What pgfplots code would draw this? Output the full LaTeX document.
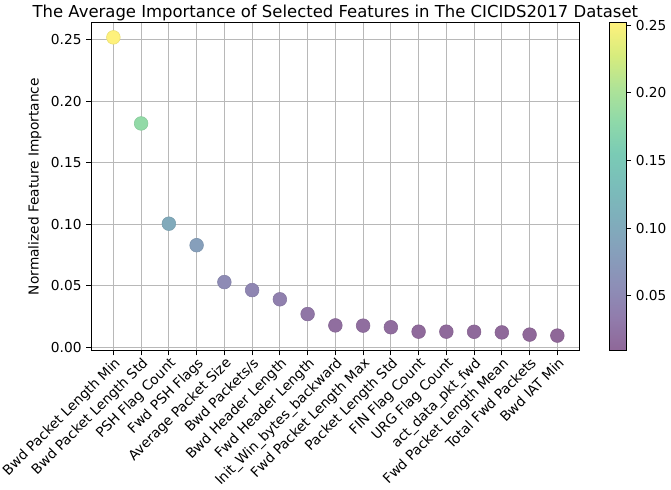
\documentclass[border=0pt]{standalone}
\usepackage{fontspec}
\setmainfont{DejaVu Sans}
\usepackage{pgfplots}
\pgfplotsset{compat=1.18}

% viridis blended with white at alpha 0.6
\pgfplotsset{
  colormap={fviridis}{
    rgb255=(143,103,152) rgb255=(145,124,172) rgb255=(141,143,183)
    rgb255=(134,159,187) rgb255=(127,174,187) rgb255=(122,189,186)
    rgb255=(122,203,181) rgb255=(143,217,169) rgb255=(175,227,151)
    rgb255=(215,236,125) rgb255=(254,241,124)
  }
}

\begin{document}
\begin{tikzpicture}
\begin{axis}[
    scale only axis,
    width=356pt, height=239pt,
    xmin=-0.8, xmax=16.8,
    ymin=-0.0026, ymax=0.264,
    axis line style={line width=0.8pt},
    tick align=outside,
    tick style={black, line width=0.8pt},
    major tick length=3.5pt,
    xtick pos=bottom, ytick pos=left,
    grid=major,
    grid style={color=black!28, line width=0.7pt},
    xtick={0,...,16},
    xticklabels={Bwd Packet Length Min, Bwd Packet Length Std, PSH Flag Count,
      Fwd PSH Flags, Average Packet Size, Bwd Packets/s, Bwd Header Length,
      Fwd Header Length, Init\_Win\_bytes\_backward, Fwd Packet Length Max,
      Packet Length Std, FIN Flag Count, URG Flag Count, act\_data\_pkt\_fwd,
      Fwd Packet Length Mean, Total Fwd Packets, Bwd IAT Min},
    xticklabel style={rotate=45, anchor=north east, inner sep=0.5pt,
      font=\fontsize{10}{12}\selectfont},
    ytick={0,0.05,0.1,0.15,0.2,0.25},
    yticklabel style={font=\fontsize{10}{12}\selectfont,
      /pgf/number format/.cd, fixed, fixed zerofill, precision=2},
    scaled y ticks=false,
    /pgf/number format/assume math mode=true,
    ylabel={Normalized Feature Importance},
    ylabel style={font=\fontsize{10}{12}\selectfont},
    title={The Average Importance of Selected Features in The CICIDS2017 Dataset},
    title style={font=\fontsize{12}{14}\selectfont, yshift=-8pt},
    colormap name=fviridis,
    point meta min=0.0095, point meta max=0.252,
    colorbar,
    colorbar style={
      at={(parent axis.north east)}, anchor=north west, xshift=13pt,
      width=12.5pt,
      axis line style={line width=0.8pt},
      ytick={0.05,0.1,0.15,0.2,0.25},
      ytick pos=right,
      tick align=outside,
      major tick length=3.5pt,
      tick style={black, line width=0.8pt},
      yticklabel style={font=\fontsize{10}{12}\selectfont,
        /pgf/number format/.cd, fixed, fixed zerofill, precision=2},
      scaled y ticks=false,
      /pgf/number format/assume math mode=true,
    },
]
\addplot[scatter, only marks, mark=*, mark size=5pt,
  scatter/use mapped color={draw=mapped color!92!black, fill=mapped color},
  point meta=explicit]
  table[x=x, y=y, meta=y] {
x y
0 0.252
1 0.182
2 0.1005
3 0.083
4 0.053
5 0.0465
6 0.039
7 0.027
8 0.0178
9 0.0176
10 0.0163
11 0.0127
12 0.0127
13 0.0126
14 0.0121
15 0.0103
16 0.0095
};
\end{axis}
\end{tikzpicture}
\end{document}
